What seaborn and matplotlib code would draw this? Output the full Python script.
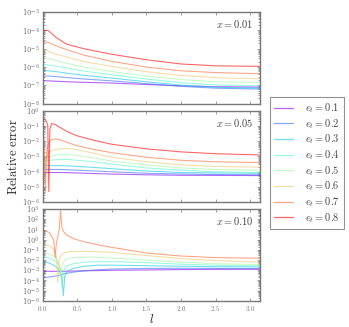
import numpy as np
import pandas as pd
import matplotlib
matplotlib.use("Agg")
import matplotlib.pyplot as plt
from matplotlib.ticker import FuncFormatter, LogLocator, NullFormatter
import seaborn as sns

# e_t values (legend) and panel labels
e_t = [0.1, 0.2, 0.3, 0.4, 0.5, 0.6, 0.7, 0.8]
x_vals = ["0.01", "0.05", "0.10"]

# log10 of relative error
# panel x = 0.01
l_top = [0, 0.08, 0.2, 0.35, 0.6, 1.0, 1.5, 2.0, 2.5, 3.14]
top_log = [
    [-6.75, -6.75, -6.77, -6.80, -6.83, -6.87, -6.95, -7.02, -7.07, -7.09],
    [-6.49, -6.49, -6.52, -6.57, -6.65, -6.75, -6.90, -7.05, -7.15, -7.20],
    [-6.20, -6.20, -6.25, -6.33, -6.45, -6.60, -6.80, -6.98, -7.10, -7.15],
    [-5.87, -5.88, -5.95, -6.05, -6.22, -6.42, -6.65, -6.85, -6.97, -7.02],
    [-5.50, -5.52, -5.65, -5.80, -6.00, -6.24, -6.50, -6.68, -6.80, -6.84],
    [-5.10, -5.13, -5.30, -5.45, -5.70, -5.96, -6.25, -6.45, -6.58, -6.64],
    [-4.60, -4.65, -4.85, -5.05, -5.35, -5.69, -6.00, -6.20, -6.30, -6.36],
    [-4.00, -4.00, -4.40, -4.75, -5.00, -5.30, -5.60, -5.83, -5.93, -5.96],
]

# panel x = 0.05
l_mid = [0, 0.02, 0.04, 0.06, 0.075, 0.09, 0.105, 0.13, 0.18, 0.25, 0.37,
         0.5, 0.75, 1.0, 1.5, 2.0, 2.5, 3.14]
mid_log = [
    [-4.05, -4.05, -4.05, -4.05, -4.05, -4.05, -4.05, -4.05, -4.05, -4.05, -4.06,
     -4.08, -4.12, -4.15, -4.20, -4.23, -4.24, -4.25],
    [-3.85, -3.85, -3.85, -3.85, -3.85, -3.85, -3.85, -3.85, -3.85, -3.85, -3.87,
     -3.90, -3.95, -4.00, -4.10, -4.15, -4.18, -4.20],
    [-3.60, -3.60, -3.60, -3.60, -3.60, -3.60, -3.60, -3.60, -3.60, -3.60, -3.62,
     -3.65, -3.72, -3.80, -3.95, -4.05, -4.08, -4.10],
    [-3.30, -3.35, -3.30, -3.28, -3.27, -3.25, -3.25, -3.23, -3.22, -3.20, -3.20,
     -3.25, -3.35, -3.50, -3.75, -3.90, -4.00, -4.05],
    [-3.10, -3.30, -3.20, -3.10, -3.05, -3.00, -3.00, -2.97, -2.93, -2.90, -2.88,
     -2.92, -3.10, -3.30, -3.55, -3.75, -3.85, -3.90],
    [-2.80, -4.50, -3.30, -3.00, -2.85, -2.75, -2.70, -2.62, -2.55, -2.50, -2.48,
     -2.55, -2.80, -3.05, -3.35, -3.55, -3.65, -3.70],
    [-1.45, -1.80, -5.30, -2.70, -2.30, -2.10, -2.00, -1.90, -1.85, -1.90, -2.10,
     -2.30, -2.55, -2.75, -3.05, -3.25, -3.35, -3.40],
    [-0.45, -0.50, -0.60, -0.75, -1.00, -5.30, -1.20, -0.85, -0.90, -1.10, -1.40,
     -1.65, -1.95, -2.20, -2.50, -2.70, -2.82, -2.90],
]

# panel x = 0.10 (e_t = 0.8 lies above the plotted range)
l_bot = [0, 0.1, 0.16, 0.18, 0.2, 0.22, 0.24, 0.26, 0.28, 0.3, 0.32, 0.36,
         0.45, 0.6, 0.8, 1.0, 1.5, 2.0, 2.5, 3.14]
bot_log = [
    [-3.10, -3.10, -3.10, -3.10, -3.10, -3.10, -3.10, -3.10, -3.10, -3.10, -3.10,
     -3.08, -3.07, -3.05, -3.03, -3.00, -2.97, -2.93, -2.91, -2.90],
    [-3.75, -3.65, -3.60, -3.58, -3.55, -3.52, -3.50, -3.45, -3.40, -3.35, -3.32,
     -3.28, -3.18, -3.05, -2.95, -2.88, -2.82, -2.80, -2.82, -2.83],
    [-2.10, -2.30, -2.50, -2.60, -2.70, -2.85, -3.00, -3.30, -3.80, -5.50, -3.60,
     -3.10, -2.80, -2.60, -2.50, -2.50, -2.55, -2.60, -2.65, -2.67],
    [-1.60, -1.80, -2.00, -2.10, -2.20, -2.35, -2.55, -2.90, -4.60, -3.10, -2.80,
     -2.55, -2.35, -2.20, -2.15, -2.15, -2.25, -2.40, -2.50, -2.57],
    [-1.20, -1.40, -1.60, -1.70, -1.85, -2.10, -2.50, -3.60, -2.60, -2.20, -2.00,
     -1.85, -1.75, -1.70, -1.72, -1.80, -2.00, -2.20, -2.35, -2.45],
    [-0.40, -0.60, -0.90, -1.10, -1.60, -4.20, -2.00, -1.60, -1.40, -1.30, -1.25,
     -1.20, -1.15, -1.15, -1.18, -1.25, -1.55, -1.85, -2.05, -2.20],
    [1.00, 0.70, 0.00, -1.80, -0.30, 0.30, 1.00, 2.90, 1.20, 0.85, 0.65,
     0.40, 0.10, -0.20, -0.50, -0.75, -1.30, -1.60, -1.75, -1.82],
]

panels = [(l_top, top_log, (1e-8, 1e-3)),
          (l_mid, mid_log, (1e-6, 1e0)),
          (l_bot, bot_log, (1e-6, 1e3))]

sns.set_style("ticks")
plt.rcParams["font.family"] = "serif"
plt.rcParams["font.serif"] = ["DejaVu Serif"]
plt.rcParams["mathtext.fontset"] = "cm"

grey = "#777777"
cols = plt.cm.rainbow(np.linspace(0, 1, len(e_t)))
palette = {e: tuple(c) for e, c in zip(e_t, cols)}

fig = plt.figure(figsize=(3.49, 3.27), dpi=100)
gs = fig.add_gridspec(3, 1, left=0.122, right=0.745, top=0.963, bottom=0.08, hspace=0.075)

axes = []
for i, (lx, logs, ylim) in enumerate(panels):
    ax = fig.add_subplot(gs[i])
    axes.append(ax)
    rows = []
    for e, vals in zip(e_t, logs):
        for l, v in zip(lx, vals):
            rows.append({"l": l, "err": 10.0 ** v, "e_t": e})
    df = pd.DataFrame(rows)
    sns.lineplot(data=df, x="l", y="err", hue="e_t", palette=palette, ax=ax,
                 linewidth=0.8, alpha=0.6, legend=False, estimator=None)
    ax.set_yscale("log")
    ax.set_ylim(*ylim)
    ax.set_xlim(0, np.pi)
    ax.set_xlabel("")
    ax.set_ylabel("")
    ax.yaxis.set_major_locator(LogLocator(base=10, numticks=20))
    ax.yaxis.set_minor_locator(LogLocator(base=10, subs=np.arange(2, 10) * 0.1, numticks=20))
    ax.yaxis.set_minor_formatter(NullFormatter())
    ax.xaxis.set_major_locator(plt.MultipleLocator(0.5))
    ax.xaxis.set_major_formatter(FuncFormatter(lambda v, p: f"${v:.1f}$"))
    ax.tick_params(which="both", direction="in", top=True, right=True,
                   color=grey, labelcolor=grey, labelsize=5, width=0.5, pad=2)
    ax.tick_params(which="major", length=2.5)
    ax.tick_params(which="minor", length=1.2)
    for s in ax.spines.values():
        s.set_color(grey)
        s.set_linewidth(1.0)
    if i < 2:
        ax.tick_params(labelbottom=False)
    ax.text(0.97, 0.87, f"$x = {x_vals[i]}$", transform=ax.transAxes,
            ha="right", va="center", fontsize=7.5, color="#444444")

axes[2].set_xlabel("$l$", fontsize=9, labelpad=0)
axes[1].set_ylabel(r"$\mathrm{Relative\ error}$", fontsize=9, labelpad=1)

handles = [plt.Line2D([], [], color=palette[e], lw=0.9, alpha=0.6) for e in e_t]
labels = [f"$e_t = {e}$" for e in e_t]
leg = fig.legend(handles, labels, loc="upper left", bbox_to_anchor=(0.773, 0.703),
                 fontsize=7.5, frameon=True, fancybox=False, handlelength=1.8,
                 labelspacing=0.18, borderpad=0.4, handletextpad=1.2,
                 borderaxespad=0)
leg.get_frame().set_edgecolor(grey)
leg.get_frame().set_linewidth(0.8)
for t in leg.get_texts():
    t.set_color("#444444")

fig.savefig("out.png", dpi=100)
plt.close()
